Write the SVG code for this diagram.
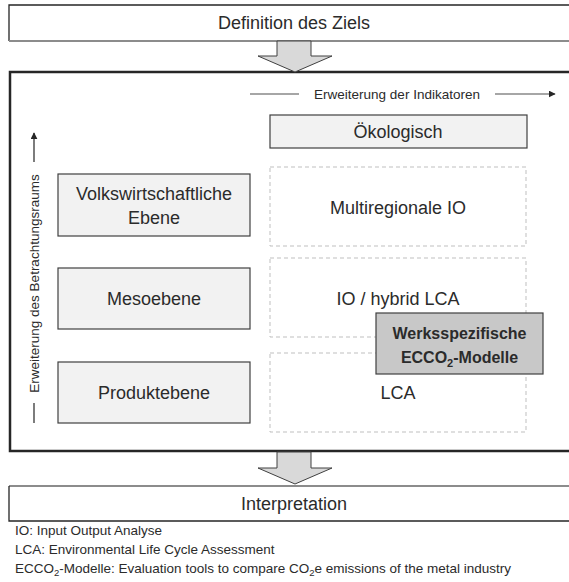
<svg xmlns="http://www.w3.org/2000/svg" width="569" height="582" viewBox="0 0 569 582">
<defs>
<style>
text{font-family:"Liberation Sans",Arial,sans-serif;fill:#2b2b2b}
.lbl{font-size:18px;text-anchor:middle}
.bold{font-size:16px;font-weight:bold;text-anchor:middle}
.small{font-size:13.5px}
.note{font-size:13.5px}
.box{fill:#f2f2f2;stroke:#404040;stroke-width:1.2}
.dash{fill:none;stroke:#bfbfbf;stroke-width:1;stroke-dasharray:4 3}
.arrow{fill:#d9d9d9;stroke:#404040;stroke-width:1}
.gl{stroke:#888;stroke-width:1.6;fill:none}
</style>
<marker id="ah" viewBox="0 0 10 10" refX="9" refY="5" markerWidth="7" markerHeight="7" markerUnits="userSpaceOnUse" orient="auto">
<path d="M0,0 L10,5 L0,10 z" fill="#262626"/>
</marker>
</defs>

<g id="definition">
<rect x="9" y="5" width="580" height="36" fill="#fff" stroke="none"/>
<path d="M589,5 H9 V41" fill="none" stroke="#262626" stroke-width="1.3"/>
<path d="M9,41 H589" fill="none" stroke="#8c8c8c" stroke-width="2"/>
<text class="lbl" x="294" y="29">Definition des Ziels</text>
</g>

<g id="main">
<rect x="10" y="72" width="580" height="379" fill="#fff" stroke="#262626" stroke-width="2.5"/>
</g>

<g id="connectors">
<path class="arrow" d="M277,41 H311 V56 H332 L295,72 L258,56 H277 Z"/>
<path class="arrow" d="M277,452 H311 V468 H332 L295,484 L258,468 H277 Z"/>
<line class="gl" x1="250" y1="94" x2="299" y2="94"/>
<line class="gl" x1="495" y1="94" x2="555" y2="94" marker-end="url(#ah)"/>
<line x1="34" y1="162" x2="34" y2="133" stroke="#262626" stroke-width="1.2" marker-end="url(#ah)"/>
<line x1="34" y1="403" x2="34" y2="423" stroke="#262626" stroke-width="1.2"/>
</g>

<g id="axis-labels">
<text class="small" x="397" y="99" text-anchor="middle">Erweiterung der Indikatoren</text>
<text class="small" transform="translate(38.5,283.5) rotate(-90)" x="0" y="0" text-anchor="middle">Erweiterung des Betrachtungsraums</text>
</g>

<g id="volkswirtschaftliche">
<rect class="box" x="58" y="174" width="192" height="62"/>
<text class="lbl" x="154" y="200">Volkswirtschaftliche</text>
<text class="lbl" x="154" y="224">Ebene</text>
</g>
<g id="mesoebene">
<rect class="box" x="58" y="268" width="192" height="61"/>
<text class="lbl" x="154" y="305">Mesoebene</text>
</g>
<g id="produktebene">
<rect class="box" x="58" y="362" width="192" height="61"/>
<text class="lbl" x="154" y="399">Produktebene</text>
</g>

<g id="oekologisch">
<rect class="box" x="270" y="115" width="257" height="33"/>
<text class="lbl" x="398" y="138">Ökologisch</text>
</g>
<g id="multiregionale-io">
<rect class="dash" x="270" y="167" width="256" height="79"/>
<text class="lbl" x="398" y="214">Multiregionale IO</text>
</g>
<g id="io-hybrid-lca">
<rect class="dash" x="270" y="258" width="256" height="79"/>
<text class="lbl" x="398" y="305">IO / hybrid LCA</text>
</g>
<g id="lca">
<rect class="dash" x="270" y="353" width="256" height="79"/>
<text class="lbl" x="398" y="399">LCA</text>
</g>
<g id="werksspezifisch">
<rect x="376" y="313" width="167" height="61" fill="#c8c8c8" stroke="#404040" stroke-width="1.2"/>
<text class="bold" x="459.5" y="339">Werksspezifische</text>
<text class="bold" x="459.5" y="363">ECCO<tspan font-size="11" dy="4">2</tspan><tspan dy="-4">-Modelle</tspan></text>
</g>

<g id="interpretation">
<rect x="9" y="486" width="580" height="35" fill="#fff" stroke="none"/>
<path d="M9,486 H589" fill="none" stroke="#8c8c8c" stroke-width="2"/>
<path d="M9,486 V521 H589" fill="none" stroke="#262626" stroke-width="1.3"/>
<text class="lbl" x="294" y="510">Interpretation</text>
</g>

<g id="footnotes">
<text class="note" x="15" y="535">IO: Input Output Analyse</text>
<text class="note" x="15" y="554">LCA: Environmental Life Cycle Assessment</text>
<text class="note" x="15" y="573">ECCO<tspan font-size="9.5" dy="3">2</tspan><tspan dy="-3">-Modelle: Evaluation tools to compare CO</tspan><tspan font-size="9.5" dy="3">2</tspan><tspan dy="-3">e emissions of the metal industry</tspan></text>
</g>
</svg>
